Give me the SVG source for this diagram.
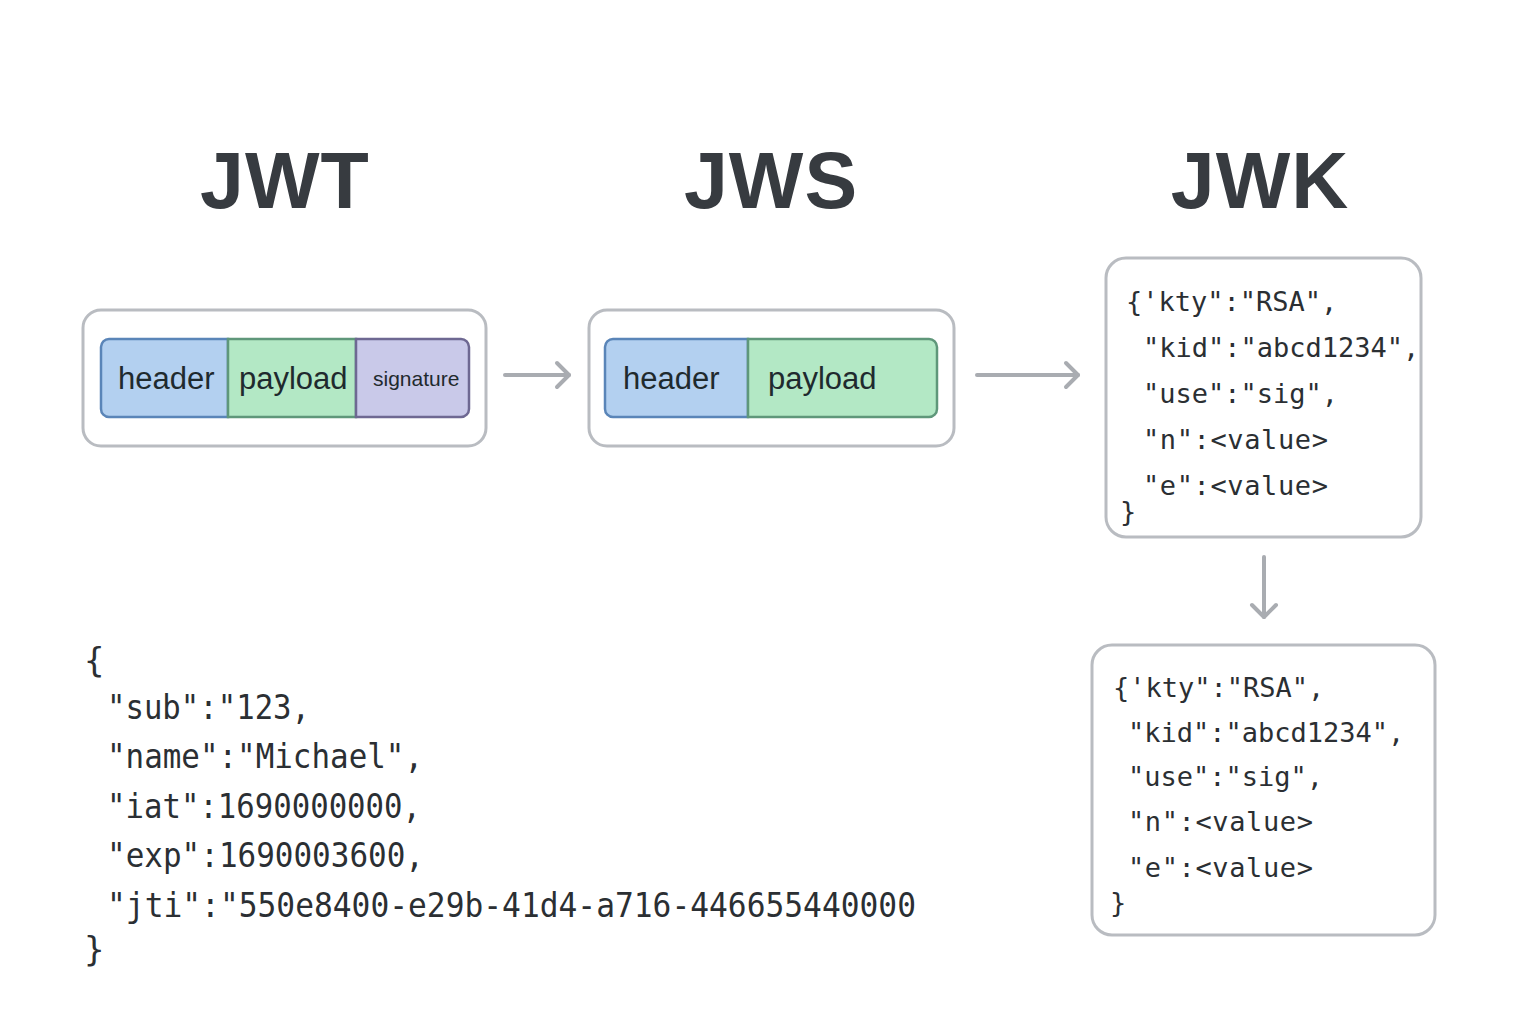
<svg xmlns="http://www.w3.org/2000/svg" width="1536" height="1024" viewBox="0 0 1536 1024">
<defs>
<marker id="chev" markerUnits="userSpaceOnUse" markerWidth="30" markerHeight="30" refX="15" refY="15" orient="auto" viewBox="0 0 30 30">
<path d="M3 3 L15 15 L3 27" fill="none" stroke="#a9acb1" stroke-width="4" stroke-linecap="round" stroke-linejoin="round"/>
</marker>
<style>
.title{font-family:"Liberation Sans",Arial,sans-serif;font-weight:bold;font-size:79px;fill:#373b40;text-anchor:middle;letter-spacing:1px}
.box{fill:#ffffff;stroke:#b9bcc1;stroke-width:3}
.seg{font-family:"Liberation Sans",Arial,sans-serif;font-size:31px;fill:#1f2a2e}
.hdr{fill:#b3d0f0;stroke:#5a85b8;stroke-width:2.5}
.pay{fill:#b3e8c5;stroke:#5f977a;stroke-width:2.5}
.sig{fill:#c9c9e9;stroke:#6e6892;stroke-width:2.5}
.mono{font-family:"DejaVu Sans Mono","Liberation Mono",monospace;font-size:27px;fill:#2b2f33}
.json{font-family:"DejaVu Sans Mono","Liberation Mono",monospace;font-size:34px;fill:#2b2f33}
.conn{fill:none;stroke:#a9acb1;stroke-width:4;stroke-linecap:round;marker-end:url(#chev)}
</style>
</defs>
<rect width="1536" height="1024" fill="#ffffff"/>

<g id="titles">
<text class="title" x="285" y="208">JWT</text>
<text class="title" x="771" y="208">JWS</text>
<text class="title" x="1260" y="208">JWK</text>
</g>

<g id="jwt">
<rect class="box" x="83" y="310" width="403" height="136" rx="18"/>
<path class="hdr" d="M228 339 H109 A8 8 0 0 0 101 347 V409 A8 8 0 0 0 109 417 H228 Z"/>
<rect class="pay" x="228" y="339" width="128" height="78"/>
<path class="sig" d="M356 339 H461 A8 8 0 0 1 469 347 V409 A8 8 0 0 1 461 417 H356 Z"/>
<text class="seg" x="118" y="389">header</text>
<text class="seg" x="239" y="389">payload</text>
<text class="seg" x="373" y="386" style="font-size:21px">signature</text>
</g>

<g id="jws">
<rect class="box" x="589" y="310" width="365" height="136" rx="18"/>
<path class="hdr" d="M748 339 H613 A8 8 0 0 0 605 347 V409 A8 8 0 0 0 613 417 H748 Z"/>
<path class="pay" d="M748 339 H929 A8 8 0 0 1 937 347 V409 A8 8 0 0 1 929 417 H748 Z"/>
<text class="seg" x="623" y="389">header</text>
<text class="seg" x="768" y="389">payload</text>
</g>

<g id="jwk1">
<rect class="box" x="1106" y="258" width="315" height="279" rx="20"/>
<text class="mono" x="1126" y="311">{'kty":"RSA",</text>
<text class="mono" x="1143" y="357">"kid":"abcd1234",</text>
<text class="mono" x="1143" y="403">"use":"sig",</text>
<text class="mono" x="1143" y="449" textLength="185" lengthAdjust="spacing">"n":&lt;value&gt;</text>
<text class="mono" x="1143" y="495" textLength="185" lengthAdjust="spacing">"e":&lt;value&gt;</text>
<text class="mono" x="1120" y="521">}</text>
</g>

<g id="jwk2">
<rect class="box" x="1092" y="645" width="343" height="290" rx="20"/>
<text class="mono" x="1113" y="697">{'kty":"RSA",</text>
<text class="mono" x="1128" y="742">"kid":"abcd1234",</text>
<text class="mono" x="1128" y="786">"use":"sig",</text>
<text class="mono" x="1128" y="831" textLength="185" lengthAdjust="spacing">"n":&lt;value&gt;</text>
<text class="mono" x="1128" y="877" textLength="185" lengthAdjust="spacing">"e":&lt;value&gt;</text>
<text class="mono" x="1110" y="912">}</text>
</g>

<g id="claims">
<text class="json" x="84" y="672">{</text>
<text class="json" x="107" y="719" textLength="203" lengthAdjust="spacingAndGlyphs">"sub":"123,</text>
<text class="json" x="107" y="768" textLength="316" lengthAdjust="spacingAndGlyphs">"name":"Michael",</text>
<text class="json" x="107" y="818" textLength="314" lengthAdjust="spacingAndGlyphs">"iat":1690000000,</text>
<text class="json" x="107" y="867" textLength="317" lengthAdjust="spacingAndGlyphs">"exp":1690003600,</text>
<text class="json" x="107" y="917" textLength="809" lengthAdjust="spacingAndGlyphs">"jti":"550e8400-e29b-41d4-a716-446655440000</text>
<text class="json" x="84" y="961">}</text>
</g>

<g id="connectors">
<line class="conn" x1="505" y1="375" x2="569" y2="375"/>
<line class="conn" x1="977" y1="375" x2="1078" y2="375"/>
<line class="conn" x1="1264" y1="557" x2="1264" y2="617"/>
</g>
</svg>
